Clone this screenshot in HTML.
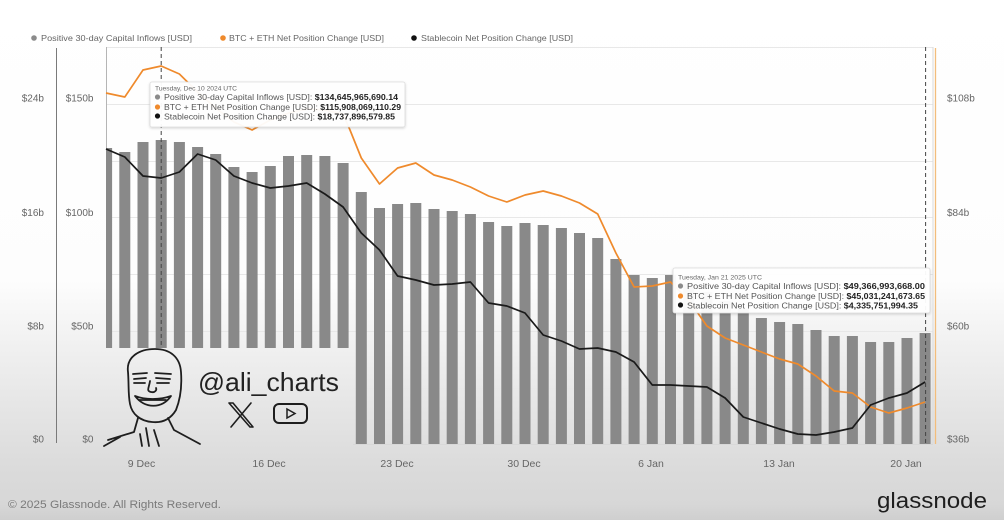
<!DOCTYPE html>
<html><head><meta charset="utf-8"><style>
html,body{margin:0;padding:0;background:#fff;}
svg{display:block;font-family:"Liberation Sans",Arial,sans-serif;}
</style></head><body>
<svg width="1004" height="520" viewBox="0 0 1004 520" xmlns="http://www.w3.org/2000/svg">
<defs>
<linearGradient id="bg" gradientUnits="userSpaceOnUse" x1="0" y1="0" x2="0" y2="520">
<stop offset="0" stop-color="#ffffff"/>
<stop offset="0.54" stop-color="#fdfdfd"/>
<stop offset="0.67" stop-color="#f0f0f0"/>
<stop offset="0.81" stop-color="#e3e3e3"/>
<stop offset="0.90" stop-color="#dbdbdb"/>
<stop offset="0.97" stop-color="#d7d7d7"/>
<stop offset="1" stop-color="#cfcfcf"/>
</linearGradient>
<filter id="sh" x="-5%" y="-20%" width="110%" height="140%"><feDropShadow dx="0" dy="1" stdDeviation="1.2" flood-color="#000" flood-opacity="0.18"/></filter>
</defs>
<rect x="0" y="0" width="1004" height="520" fill="url(#bg)"/>

<!-- gridlines -->
<g stroke="#e8e8e8" stroke-width="1">
<line x1="106" y1="47.5" x2="933" y2="47.5"/>
<line x1="106" y1="104.5" x2="933" y2="104.5"/>
<line x1="106" y1="161.5" x2="933" y2="161.5"/>
<line x1="106" y1="217.5" x2="933" y2="217.5"/>
<line x1="106" y1="274.5" x2="933" y2="274.5"/>
<line x1="106" y1="331.5" x2="933" y2="331.5"/>
<line x1="106" y1="388.5" x2="933" y2="388.5"/>
</g>
<line x1="106" y1="444.5" x2="933" y2="444.5" stroke="#d8d8d8"/>
<!-- axis lines -->
<line x1="56.5" y1="48" x2="56.5" y2="443" stroke="#7a7a7a" stroke-width="1"/>
<line x1="106.5" y1="47" x2="106.5" y2="444" stroke="#b5b5b5" stroke-width="1"/>
<line x1="933" y1="47" x2="933" y2="444" stroke="#dadada" stroke-width="1"/>
<line x1="935.5" y1="48" x2="935.5" y2="444" stroke="#f2bd7c" stroke-width="1.3"/>

<!-- bars -->
<g fill="#898989">
<rect x="106" y="148" width="6.1" height="296"/>
<rect x="119.3" y="152" width="11" height="292"/>
<rect x="137.5" y="142" width="11" height="302"/>
<rect x="155.7" y="140" width="11" height="304"/>
<rect x="173.9" y="142" width="11" height="302"/>
<rect x="192.1" y="147" width="11" height="297"/>
<rect x="210.2" y="154" width="11" height="290"/>
<rect x="228.4" y="167" width="11" height="277"/>
<rect x="246.6" y="172" width="11" height="272"/>
<rect x="264.8" y="166" width="11" height="278"/>
<rect x="283.0" y="156" width="11" height="288"/>
<rect x="301.2" y="155" width="11" height="289"/>
<rect x="319.4" y="156" width="11" height="288"/>
<rect x="337.6" y="163" width="11" height="281"/>
<rect x="355.8" y="192" width="11" height="252"/>
<rect x="374.0" y="208" width="11" height="236"/>
<rect x="392.1" y="204" width="11" height="240"/>
<rect x="410.3" y="203" width="11" height="241"/>
<rect x="428.5" y="209" width="11" height="235"/>
<rect x="446.7" y="211" width="11" height="233"/>
<rect x="464.9" y="214" width="11" height="230"/>
<rect x="483.1" y="222" width="11" height="222"/>
<rect x="501.3" y="226" width="11" height="218"/>
<rect x="519.5" y="223" width="11" height="221"/>
<rect x="537.7" y="225" width="11" height="219"/>
<rect x="555.9" y="228" width="11" height="216"/>
<rect x="574.0" y="233" width="11" height="211"/>
<rect x="592.2" y="238" width="11" height="206"/>
<rect x="610.4" y="259" width="11" height="185"/>
<rect x="628.6" y="275" width="11" height="169"/>
<rect x="646.8" y="278" width="11" height="166"/>
<rect x="665.0" y="275" width="11" height="169"/>
<rect x="683.2" y="284" width="11" height="160"/>
<rect x="701.4" y="292" width="11" height="152"/>
<rect x="719.6" y="301" width="11" height="143"/>
<rect x="737.8" y="309" width="11" height="135"/>
<rect x="755.9" y="318" width="11" height="126"/>
<rect x="774.1" y="322" width="11" height="122"/>
<rect x="792.3" y="324" width="11" height="120"/>
<rect x="810.5" y="330" width="11" height="114"/>
<rect x="828.7" y="336" width="11" height="108"/>
<rect x="846.9" y="336" width="11" height="108"/>
<rect x="865.1" y="342" width="11" height="102"/>
<rect x="883.3" y="342" width="11" height="102"/>
<rect x="901.5" y="338" width="11" height="106"/>
<rect x="919.6" y="333" width="11" height="111"/>
</g>

<!-- dashed crosshairs -->
<line x1="161.2" y1="47" x2="161.2" y2="444" stroke="#444" stroke-width="1" stroke-dasharray="4,3"/>
<line x1="925.6" y1="47" x2="925.6" y2="444" stroke="#444" stroke-width="1" stroke-dasharray="4,3"/>

<!-- BTC+ETH line -->
<polyline fill="none" stroke="#ef8a2c" stroke-width="1.7" stroke-linejoin="round" points="106,93 124.8,97 143,70 161.2,66 179.4,74 197.6,92 215.7,108 233.9,122 252.1,130 270.3,120 288.5,113 306.7,109 324.9,110 343.1,114 350,130 361.3,158 379.5,184 397.6,168 415.8,163 434,175 452.2,180 470.4,187 488.6,196 506.8,202 525,195 543.2,191 561.4,196 579.5,203 597.7,214 615.9,253 634.1,287 652.3,286 670.5,282 688.7,300 706.9,326 725.1,338 743.3,345 761.4,352 779.6,359 797.8,364 816,376 834.2,391 852.4,393 870.6,407 888.8,413 907,408 925.1,402"/>

<!-- Stablecoin line -->
<polyline fill="none" stroke="#1a1a1a" stroke-width="1.7" stroke-linejoin="round" points="106,149 124.8,157 143,176 161.2,178 179.4,172 197.6,154 215.7,160 233.9,176 252.1,183 270.3,188 288.5,186 306.7,183 324.9,194 343.1,207 361.3,233 379.5,250 397.6,276 415.8,280 434,285 452.2,284 470.4,282 488.6,303 506.8,306 525,313 543.2,335 561.4,341 579.5,349 597.7,348 615.9,352 634.1,362 652.3,385 670.5,385 688.7,386 706.9,387 725.1,398 743.3,417 761.4,423 779.6,429 797.8,434 816,435 834.2,432 852.4,428 870.6,405 888.8,398 907,393 925.1,382"/>

<!-- watermark -->
<rect x="100" y="348" width="253" height="98" fill="url(#bg)"/>
<g fill="none" stroke="#1e1e1e" stroke-width="1.8" stroke-linecap="round" stroke-linejoin="round">
<path d="M128,372 C126,357 139,349 155,349 C170,349 180,357 181,372 C182,386 180,400 176,410 C170,420 161,423 152,422 C140,421 132,414 130,404 C128,394 129,385 128,372 Z"/>
<path d="M133,374 L147,373 M155,373 L171,374"/>
<path d="M134,379 L146,378 M134,383 L145,383 M156,378 L170,379 M157,383 L169,383"/>
<path d="M150,381 C149,388 146,391 151,392 C155,393 157,390 156,388"/>
<path d="M135,396 C145,409 162,409 171,396 C160,400 145,400 135,396 Z"/>
<path d="M139,400 L166,400"/>
<path d="M138,418 L134,432 L108,440 M104,446 L120,437"/>
<path d="M168,418 L174,430 L200,444"/>
<path d="M146,428 L149,446 M154,430 L159,446 M140,434 L142,446"/>
</g>
<text x="198" y="391" font-size="26" fill="#222" textLength="141" lengthAdjust="spacingAndGlyphs">@ali_charts</text>
<g fill="none" stroke="#1e1e1e" stroke-width="1.6" stroke-linecap="round">
<path d="M229,403 L250,427 M233,403 L253,427 M229,403 L233,403 M250,427 L253,427"/>
<path d="M251,403 L231,427"/>
<rect x="274" y="404" width="33" height="19" rx="5" stroke-width="2"/>
<path d="M287,409 L295,413.5 L287,418 Z" stroke-width="1.5"/>
</g>

<!-- tooltip 1 -->
<g filter="url(#sh)"><rect x="150" y="82" width="255" height="45" rx="2" fill="#ffffff" fill-opacity="0.95" stroke="#dcdcdc" stroke-width="0.8"/></g>
<text x="155" y="90.5" font-size="6.5" fill="#666" textLength="82" lengthAdjust="spacingAndGlyphs">Tuesday, Dec 10 2024 UTC</text>
<circle cx="157.5" cy="97" r="2.6" fill="#8b8b8b"/>
<circle cx="157.5" cy="107" r="2.6" fill="#ef8a2c"/>
<circle cx="157.5" cy="116" r="2.6" fill="#111"/>
<text x="164" y="100" font-size="8.5" fill="#555" textLength="234" lengthAdjust="spacingAndGlyphs">Positive 30-day Capital Inflows [USD]: <tspan font-weight="bold" fill="#222">$134,645,965,690.14</tspan></text>
<text x="164" y="110" font-size="8.5" fill="#555" textLength="237" lengthAdjust="spacingAndGlyphs">BTC + ETH Net Position Change [USD]: <tspan font-weight="bold" fill="#222">$115,908,069,110.29</tspan></text>
<text x="164" y="119.5" font-size="8.5" fill="#555" textLength="231" lengthAdjust="spacingAndGlyphs">Stablecoin Net Position Change [USD]: <tspan font-weight="bold" fill="#222">$18,737,896,579.85</tspan></text>

<!-- tooltip 2 -->
<g filter="url(#sh)"><rect x="673" y="268" width="257" height="45" rx="2" fill="#ffffff" fill-opacity="0.95" stroke="#dcdcdc" stroke-width="0.8"/></g>
<text x="678" y="279.5" font-size="6.5" fill="#666" textLength="84" lengthAdjust="spacingAndGlyphs">Tuesday, Jan 21 2025 UTC</text>
<circle cx="680.5" cy="286" r="2.6" fill="#8b8b8b"/>
<circle cx="680.5" cy="296" r="2.6" fill="#ef8a2c"/>
<circle cx="680.5" cy="305" r="2.6" fill="#111"/>
<text x="687" y="289" font-size="8.5" fill="#555" textLength="238" lengthAdjust="spacingAndGlyphs">Positive 30-day Capital Inflows [USD]: <tspan font-weight="bold" fill="#222">$49,366,993,668.00</tspan></text>
<text x="687" y="299" font-size="8.5" fill="#555" textLength="238" lengthAdjust="spacingAndGlyphs">BTC + ETH Net Position Change [USD]: <tspan font-weight="bold" fill="#222">$45,031,241,673.65</tspan></text>
<text x="687" y="308.5" font-size="8.5" fill="#555" textLength="231" lengthAdjust="spacingAndGlyphs">Stablecoin Net Position Change [USD]: <tspan font-weight="bold" fill="#222">$4,335,751,994.35</tspan></text>

<!-- legend -->
<circle cx="34" cy="38" r="2.8" fill="#8b8b8b"/>
<text x="41" y="41" font-size="8.5" fill="#666" textLength="151" lengthAdjust="spacingAndGlyphs">Positive 30-day Capital Inflows [USD]</text>
<circle cx="223" cy="38" r="2.8" fill="#ef8a2c"/>
<text x="229" y="41" font-size="8.5" fill="#666" textLength="155" lengthAdjust="spacingAndGlyphs">BTC + ETH Net Position Change [USD]</text>
<circle cx="414" cy="38" r="2.8" fill="#111"/>
<text x="421" y="41" font-size="8.5" fill="#666" textLength="152" lengthAdjust="spacingAndGlyphs">Stablecoin Net Position Change [USD]</text>

<!-- left axes labels -->
<g font-size="10" fill="#666" text-anchor="end">
<text x="44" y="101.5">$24b</text>
<text x="44" y="216">$16b</text>
<text x="44" y="329.5">$8b</text>
<text x="44" y="442.5">$0</text>
<text x="93.5" y="101.5">$150b</text>
<text x="93.5" y="216">$100b</text>
<text x="93.5" y="329.5">$50b</text>
<text x="93.5" y="442.5">$0</text>
</g>
<!-- right axis labels -->
<g font-size="10" fill="#666">
<text x="947" y="101.5">$108b</text>
<text x="947" y="216">$84b</text>
<text x="947" y="329.5">$60b</text>
<text x="947" y="442.5">$36b</text>
</g>
<!-- x axis labels -->
<g font-size="10.5" fill="#666" text-anchor="middle">
<text x="141.5" y="467">9 Dec</text>
<text x="269" y="467">16 Dec</text>
<text x="397" y="467">23 Dec</text>
<text x="524" y="467">30 Dec</text>
<text x="651" y="467">6 Jan</text>
<text x="779" y="467">13 Jan</text>
<text x="906" y="467">20 Jan</text>
</g>

<!-- footer -->
<text x="8" y="508" font-size="11" fill="#7a7a7a" textLength="213" lengthAdjust="spacingAndGlyphs">© 2025 Glassnode. All Rights Reserved.</text>
<text x="877" y="508" font-size="22" fill="#1e1e1e" textLength="110" lengthAdjust="spacingAndGlyphs">glassnode</text>
</svg>
</body></html>
